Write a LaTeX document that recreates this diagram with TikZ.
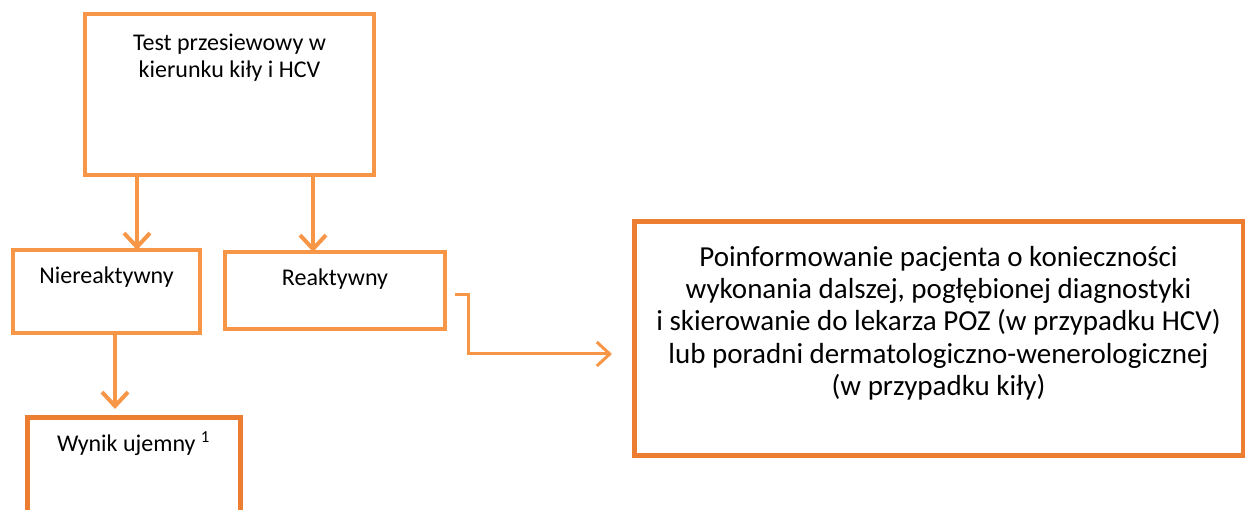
\documentclass[tikz,border=0pt]{standalone}
\usepackage{fontspec}
\setmainfont{Carlito}
\usetikzlibrary{arrows.meta,calc}
\definecolor{lightor}{HTML}{F79646}
\definecolor{darkor}{HTML}{ED7D31}

% box content: fixed-size parbox, text starting near the top
\newcommand{\boxtext}[4]{\parbox[c][#2][t]{#1}{\centering\vspace*{#3}#4\par}}

\begin{document}
\begin{tikzpicture}[x=1pt,y=-1pt,
  thinbox/.style={draw=lightor, line width=3.5pt, inner sep=0pt, outer sep=0pt,
    anchor=north west, font=\fontsize{24}{27}\selectfont},
  thickbox/.style={draw=darkor, line width=5pt, inner sep=0pt, outer sep=0pt,
    anchor=north west},
  downarrow/.style={draw=lightor, line width=4pt,
    -{Straight Barb[length=14pt,width=26pt,line width=4pt]}},
  sidearrow/.style={draw=lightor, line width=3pt,
    -{Straight Barb[length=13pt,width=24pt,line width=3pt]}}]

\useasboundingbox (0,0) rectangle (1245,510);

% screening test
\node[thinbox] (test) at (85,14)
  {\boxtext{289pt}{161pt}{20pt}{Test przesiewowy w\\ kierunku kiły i HCV}};

% results
\node[thinbox] (nie) at (13,250)
  {\boxtext{187pt}{83pt}{17pt}{Niereaktywny}};
\node[thinbox] (reak) at (225,252)
  {\boxtext{220pt}{77pt}{17pt}{Reaktywny}};

% negative result
\node[thickbox, font=\fontsize{24}{27}\selectfont] (neg) at (27,418)
  {\boxtext{213pt}{110pt}{14pt}{Wynik ujemny \textsuperscript{1}}};

% referral
\node[thickbox, font=\fontsize{29}{32.3}\selectfont] (ref) at (634,222)
  {\boxtext{609pt}{233pt}{24pt}{Poinformowanie pacjenta o konieczności\\
   wykonania dalszej, pogłębionej diagnostyki\\
   i skierowanie do lekarza POZ (w przypadku HCV)\\
   lub poradni dermatologiczno-wenerologicznej\\
   (w przypadku kiły)}};

% connectors
\coordinate (xa) at (137,0);
\coordinate (xb) at (313,0);
\coordinate (xc) at (115,0);
\draw[downarrow] (test.south -| xa) -- (nie.north -| xa);
\draw[downarrow] (test.south -| xb) -- (reak.north -| xb);
\draw[downarrow, shorten >=9pt] (nie.south -| xc) -- (neg.north -| xc);
\draw[sidearrow, shorten >=22pt] ([shift={(10pt,-4pt)}]reak.east) -- ++(13,0)
  |- ([yshift=-15.5pt]ref.west);
\end{tikzpicture}
\end{document}
